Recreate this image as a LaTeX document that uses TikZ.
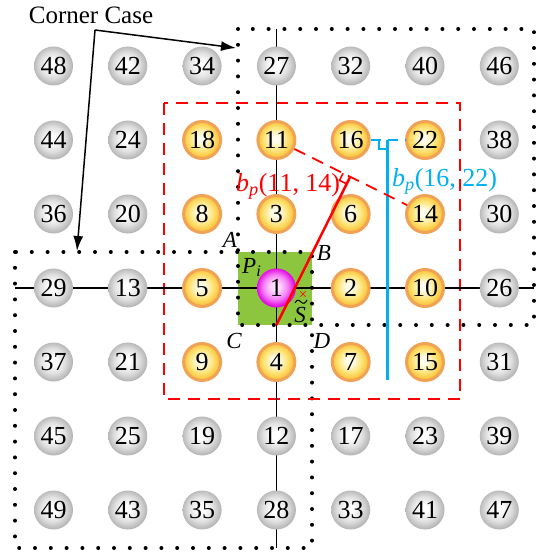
\documentclass[tikz,border=0pt]{standalone}
\usepackage{fontspec}
\setmainfont{Liberation Serif}
\usetikzlibrary{calc,arrows.meta}
\definecolor{gedge}{RGB}{182,182,182}
\definecolor{gmid}{RGB}{224,224,224}
\definecolor{oedge}{RGB}{249,190,48}
\definecolor{omid}{RGB}{253,228,120}
\definecolor{ocenter}{RGB}{255,253,235}
\definecolor{oring}{RGB}{240,162,86}
\definecolor{medge}{RGB}{224,0,224}
\definecolor{mmid}{RGB}{245,125,245}
\definecolor{mcenter}{RGB}{255,225,255}
\definecolor{sqgreen}{RGB}{140,198,63}
\definecolor{bpblue}{RGB}{0,176,240}
\pgfdeclareradialshading{grayball}{\pgfpoint{-2bp}{2bp}}{color(0bp)=(white); color(5bp)=(white); color(16bp)=(gmid); color(25bp)=(gedge); color(50bp)=(gedge)}
\pgfdeclareradialshading{orangeball}{\pgfpoint{-2bp}{2bp}}{color(0bp)=(ocenter); color(5bp)=(ocenter); color(16bp)=(omid); color(25bp)=(oedge); color(50bp)=(oedge)}
\pgfdeclareradialshading{pinkball}{\pgfpoint{-2bp}{2bp}}{color(0bp)=(mcenter); color(5bp)=(mcenter); color(16bp)=(mmid); color(25bp)=(medge); color(50bp)=(medge)}
\begin{document}
\begin{tikzpicture}[x=1pt,y=-1pt,
  numfont/.style={font=\fontsize{26}{30}\selectfont},
  ball/.style={circle, inner sep=0pt, minimum size=39pt, numfont},
  gball/.style={ball, shade, shading=grayball},
  oball/.style={ball, minimum size=37pt, draw=oring, line width=3pt, shade, shading=orangeball},
  mball/.style={ball, shade, shading=pinkball},
  dotbox/.style={line width=4pt, line cap=round, dash pattern=on 0pt off 15.8pt},
  reddash/.style={red, line width=1.8pt, dash pattern=on 12pt off 8pt},
  lbl/.style={font=\fontsize{23}{26}\selectfont\itshape, inner sep=0pt, anchor=base}
]
\useasboundingbox (0,0) rectangle (539,553);

% green square
\fill[sqgreen] (238,252) rectangle (312,325);

% dotted corner boxes
\draw[dotbox] (238,29) rectangle (534,325);
\draw[dotbox] (15,252) rectangle (312,548);

% red dashed region
\draw[reddash] (164,103) rectangle (460,399);

% axes
\coordinate (hl) at (15,288);
\coordinate (hr) at (534,288);
\coordinate (vt) at (276.4,29);
\coordinate (vb) at (276.4,548);
\draw[line width=1.5pt] (hl) -- (hr);
\draw[line width=1.5pt] (vt) -- (vb);

% row 1
\node[gball] (n48) at (53.5,66) {48};
\node[gball] (n42) at (127.8,66) {42};
\node[gball] (n34) at (202.1,66) {34};
\node[gball] (n27) at (276.4,66) {27};
\node[gball] (n32) at (350.7,66) {32};
\node[gball] (n40) at (425.0,66) {40};
\node[gball] (n46) at (499.3,66) {46};
% row 2
\node[gball] (n44) at (53.5,140) {44};
\node[gball] (n24) at (127.8,140) {24};
\node[oball] (n18) at (202.1,140) {18};
\node[oball] (n11) at (276.4,140) {11};
\node[oball] (n16) at (350.7,140) {16};
\node[oball] (n22) at (425.0,140) {22};
\node[gball] (n38) at (499.3,140) {38};
% row 3
\node[gball] (n36) at (53.5,214) {36};
\node[gball] (n20) at (127.8,214) {20};
\node[oball] (n8) at (202.1,214) {8};
\node[oball] (n3) at (276.4,214) {3};
\node[oball] (n6) at (350.7,214) {6};
\node[oball] (n14) at (425.0,214) {14};
\node[gball] (n30) at (499.3,214) {30};
% row 4
\node[gball] (n29) at (53.5,288) {29};
\node[gball] (n13) at (127.8,288) {13};
\node[oball] (n5) at (202.1,288) {5};
\node[mball] (n1) at (276.4,288) {1};
\node[oball] (n2) at (350.7,288) {2};
\node[oball] (n10) at (425.0,288) {10};
\node[gball] (n26) at (499.3,288) {26};
% row 5
\node[gball] (n37) at (53.5,362) {37};
\node[gball] (n21) at (127.8,362) {21};
\node[oball] (n9) at (202.1,362) {9};
\node[oball] (n4) at (276.4,362) {4};
\node[oball] (n7) at (350.7,362) {7};
\node[oball] (n15) at (425.0,362) {15};
\node[gball] (n31) at (499.3,362) {31};
% row 6
\node[gball] (n45) at (53.5,436) {45};
\node[gball] (n25) at (127.8,436) {25};
\node[gball] (n19) at (202.1,436) {19};
\node[gball] (n12) at (276.4,436) {12};
\node[gball] (n17) at (350.7,436) {17};
\node[gball] (n23) at (425.0,436) {23};
\node[gball] (n39) at (499.3,436) {39};
% row 7
\node[gball] (n49) at (53.5,510) {49};
\node[gball] (n43) at (127.8,510) {43};
\node[gball] (n35) at (202.1,510) {35};
\node[gball] (n28) at (276.4,510) {28};
\node[gball] (n33) at (350.7,510) {33};
\node[gball] (n41) at (425.0,510) {41};
\node[gball] (n47) at (499.3,510) {47};

% blue perpendicular bisector of 16-22
\draw[bpblue, line width=1.8pt, dash pattern=on 10pt off 7pt] (n16) -- (n22);
\coordinate (M) at ($(n16)!0.5!(n22)$);
\coordinate (Mb) at ($(M)+(0,240)$);
\draw[bpblue, line width=3pt] (M) -- (Mb);
\draw[bpblue, line width=1.6pt] ($(M)+(-9,0)$) -- ($(M)+(-9,9)$) -- ($(M)+(0,9)$);

% red perpendicular bisector of 11-14
\draw[reddash] (n11) -- (n14);
\coordinate (P) at (276.4,325);
\coordinate (F) at ($(n11)!(P)!(n14)$);
\draw[red, line width=2.5pt] (P) -- (F);
\draw[red, line width=1.6pt] ($(F)!8pt!(n11)$) -- ($(F)!8pt!(n11)+(F)!8pt!(P)-(F)$) -- ($(F)!8pt!(P)$);

% labels
\node[lbl] (lA) at (230,247) {A};
\node[lbl] (lB) at (324,260) {B};
\node[lbl] (lC) at (234,348) {C};
\node[lbl] (lD) at (322,348) {D};
\node[lbl, anchor=base west] (lP) at (242,273) {P\textsubscript{i}};
\node[lbl] (lS) at (300,322) {S};
% tilde accent over S
\draw[line width=1pt] ($(lS.base)+(-5,-19)$) .. controls ($(lS.base)+(-3,-23)$) and ($(lS.base)+(-1,-22)$) .. ($(lS.base)+(1,-20)$) .. controls ($(lS.base)+(3,-18)$) and ($(lS.base)+(5,-18)$) .. ($(lS.base)+(7,-22)$);
\node[red, inner sep=0pt, font=\fontsize{15}{15}\selectfont] (cross) at (303,295) {×};
\node[red, inner sep=0pt, anchor=base west, numfont] (bpr) at (236,192) {\textit{b}\textsubscript{\textit{p}}(11, 14)};
\node[bpblue, inner sep=0pt, anchor=base west, numfont] (bpb) at (392,187) {\textit{b}\textsubscript{\textit{p}}(16, 22)};

% corner case
\node[inner sep=0pt, font=\fontsize{25}{28}\selectfont] (cc) at (91,15) {Corner Case};
\coordinate (cco) at (95,30);
\coordinate (ccA) at (236,48);
\coordinate (ccB) at (77,251);
\draw[line width=1.5pt, -{Latex[length=15pt,width=10pt]}] (cco) -- (ccA);
\draw[line width=1.5pt, -{Latex[length=15pt,width=10pt]}] (cco) -- (ccB);
\end{tikzpicture}
\end{document}
